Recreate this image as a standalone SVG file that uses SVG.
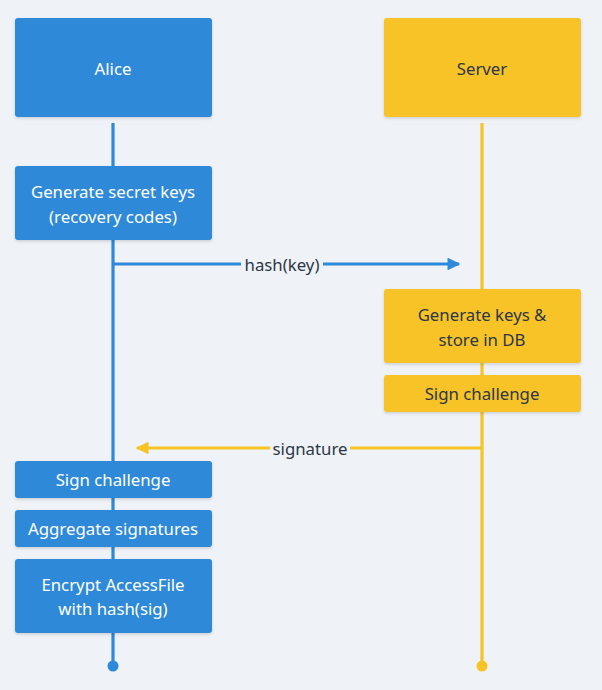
<svg xmlns="http://www.w3.org/2000/svg" width="602" height="690" viewBox="0 0 602 690">
<style>
.bg{fill:#eff3f7}
.ba{fill:#2d89d9;filter:url(#sh)}
.bs{fill:#f7c325;filter:url(#sh)}
.t{font-family:"Noto Sans","DejaVu Sans",sans-serif;font-size:16.8px;text-anchor:middle;dominant-baseline:central}
.tw{fill:#ffffff}
.td{fill:#2d3748}
.la{stroke:#2d89d9;stroke-width:3.2;fill:none}
.ls{stroke:#f7c325;stroke-width:3.2;fill:none}
</style>
<defs>
<filter id="sh" x="-10%" y="-10%" width="120%" height="130%">
<feDropShadow dx="0" dy="1.5" stdDeviation="1.5" flood-color="#000" flood-opacity="0.15"/>
</filter>
<marker id="ma" viewBox="0 0 10 10" refX="9" refY="5" markerWidth="4" markerHeight="4" orient="auto" markerUnits="strokeWidth"><path d="M0,0L10,5L0,10z" fill="#2d89d9"/></marker>
<marker id="ms" viewBox="0 0 10 10" refX="9" refY="5" markerWidth="4" markerHeight="4" orient="auto" markerUnits="strokeWidth"><path d="M0,0L10,5L0,10z" fill="#f7c325"/></marker>
</defs>
<rect class="bg" x="0" y="0" width="602" height="690"/>
<g id="connectors">
<line class="la" x1="113" y1="123" x2="113" y2="666"/>
<circle cx="113" cy="666" r="5.5" fill="#2d89d9"/>
<line class="ls" x1="482" y1="123" x2="482" y2="666"/>
<circle cx="482" cy="666" r="5.5" fill="#f7c325"/>
<line class="la" x1="113" y1="264" x2="459" y2="264" marker-end="url(#ma)"/>
<rect class="bg" x="241" y="254" width="82" height="20"/>
<text class="t td" x="282" y="264">hash(key)</text>
<line class="ls" x1="482" y1="448" x2="137" y2="448" marker-end="url(#ms)"/>
<rect class="bg" x="270" y="438" width="80" height="20"/>
<text class="t td" x="310" y="448">signature</text>
</g>
<g id="alice"><rect class="ba" x="15" y="18" width="197" height="99" rx="3"/><text class="t tw" x="113" y="68">Alice</text></g>
<g id="server"><rect class="bs" x="384" y="18" width="197" height="99" rx="3"/><text class="t td" x="482" y="68">Server</text></g>
<g id="gen-secret"><rect class="ba" x="15" y="166" width="197" height="74" rx="3"/><text class="t tw" x="113" y="191">Generate secret keys</text><text class="t tw" x="113" y="216">(recovery codes)</text></g>
<g id="gen-keys"><rect class="bs" x="384" y="289" width="197" height="74" rx="3"/><text class="t td" x="482" y="314">Generate keys &amp;</text><text class="t td" x="482" y="339">store in DB</text></g>
<g id="server-sign"><rect class="bs" x="384" y="375" width="197" height="37" rx="3"/><text class="t td" x="482" y="393.5">Sign challenge</text></g>
<g id="alice-sign"><rect class="ba" x="15" y="461" width="197" height="37" rx="3"/><text class="t tw" x="113" y="479.5">Sign challenge</text></g>
<g id="aggregate"><rect class="ba" x="15" y="510" width="197" height="37" rx="3"/><text class="t tw" x="113" y="528.5">Aggregate signatures</text></g>
<g id="encrypt"><rect class="ba" x="15" y="559" width="197" height="74" rx="3"/><text class="t tw" x="113" y="584">Encrypt AccessFile</text><text class="t tw" x="113" y="608">with hash(sig)</text></g>
</svg>
